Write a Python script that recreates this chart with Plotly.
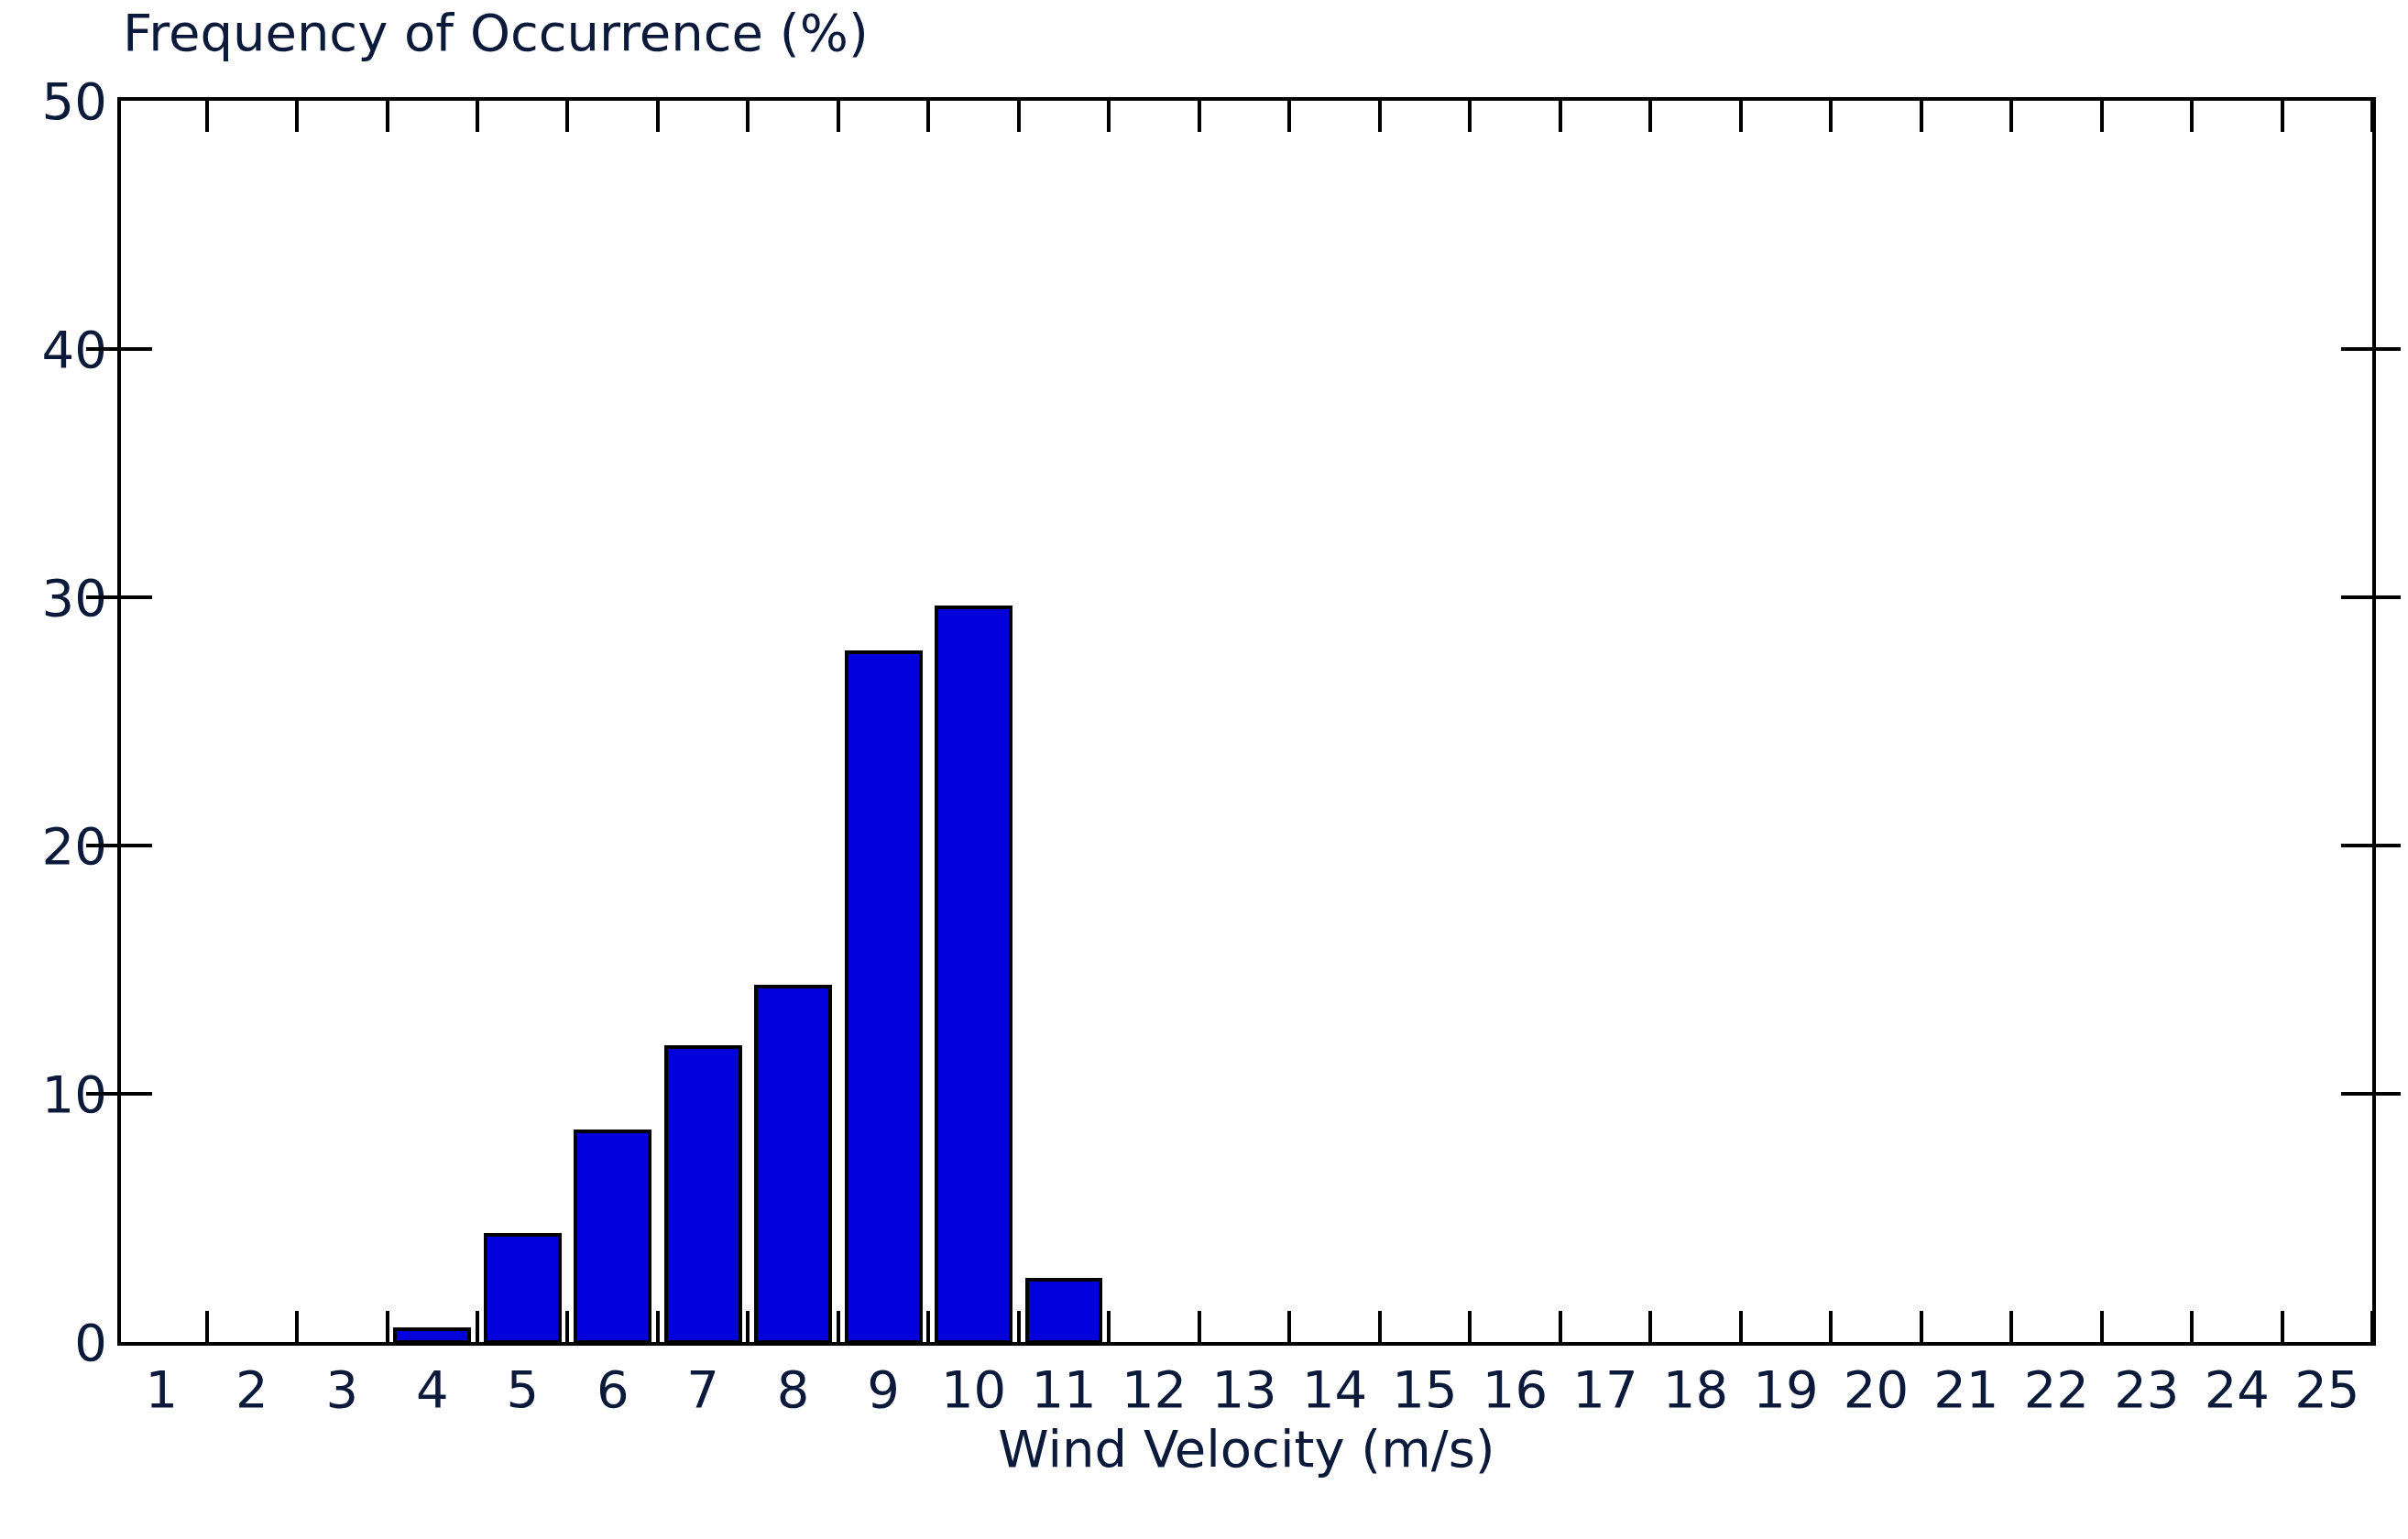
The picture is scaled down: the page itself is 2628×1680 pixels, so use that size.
import plotly.graph_objects as go

speeds = list(range(1, 26))
freq = [0, 0, 0, 0.5, 4.3, 8.5, 11.9, 14.3, 27.8, 29.6, 2.5] + [0] * 14
ytick_vals = [0, 10, 20, 30, 40, 50]

line_w = [4 if v > 0 else 0 for v in freq]
fig = go.Figure(go.Bar(x=speeds, y=freq, width=0.82,
                       marker=dict(color="#0000DD", line=dict(color="black", width=line_w))))
fig.add_trace(go.Scatter(x=[1], y=[0], xaxis="x2", mode="markers", opacity=0,
                         hoverinfo="skip", showlegend=False))
font = dict(family="DejaVu Sans", size=56, color="#0b1a3a")
minor = dict(tick0=0.5, dtick=1, ticks="inside", ticklen=34, tickwidth=4,
             tickcolor="black", showgrid=False)
fig.update_layout(
    width=2628, height=1680, plot_bgcolor="white", paper_bgcolor="white",
    margin=dict(l=124, r=47, t=102, b=223), showlegend=False, font=font,
    bargap=0,
    xaxis=dict(range=[0.55, 25.5], tickvals=speeds, ticks="", showline=True, linecolor="black",
               linewidth=4, mirror=True, showgrid=False, zeroline=False,
               title=dict(text="Wind Velocity (m/s)", standoff=12, font=font), minor=minor),
    xaxis2=dict(range=[0.55, 25.5], overlaying="x", side="top", tickvals=[], ticks="",
                showticklabels=False, showgrid=False, zeroline=False, minor=minor),
    yaxis=dict(range=[0, 50], tickvals=ytick_vals, ticks="inside", ticklen=34, tickwidth=4,
               tickcolor="black", showline=True, linecolor="black", linewidth=4,
               mirror="allticks", showgrid=False, zeroline=False),
    annotations=[dict(text="Frequency of Occurrence (%)", xref="paper", yref="paper",
                      x=0, y=1, yshift=40, xanchor="left", yanchor="bottom",
                      showarrow=False, font=font)],
)
fig.write_html("out.html")
